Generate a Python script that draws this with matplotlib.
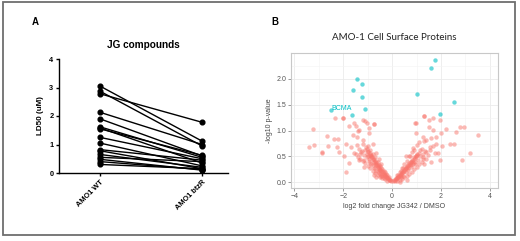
import numpy as np
import matplotlib.pyplot as plt
from matplotlib.patches import Rectangle

plt.rcParams['font.family'] = ['Liberation Sans', 'DejaVu Sans']

# -------------------------------
# data: panel A (paired LD50 values)
# -------------------------------
groups = ['AMO1 WT', 'AMO1 btzR']
ld50_wt = [3.05, 2.87, 2.78, 2.13, 1.90, 1.62, 1.58, 1.55, 1.25, 1.05,
           0.82, 0.78, 0.65, 0.55, 0.48, 0.40, 0.30]
ld50_btzr = [1.12, 0.95, 1.78, 1.00, 0.60, 0.55, 0.35, 0.62, 0.50, 0.25,
             0.45, 0.15, 0.20, 0.40, 0.10, 0.12, 0.15]

# -------------------------------
# data: panel B (volcano plot)
# -------------------------------
sig_fc = [-1.45, -1.22, -1.60, -1.22, -1.10, -1.63, -2.52,
          1.77, 1.59, 1.01, 2.53, 1.97]
sig_p = [2.00, 1.90, 1.78, 1.64, 1.42, 1.31, 1.40,
         2.37, 2.21, 1.70, 1.56, 1.33]
label_name = 'BCMA'
label_fc = -2.52
label_p = 1.40

ns_fc = [
    # left outliers
    -3.22, -3.42, -3.19, -2.88, -2.66, -2.62, -2.33, -2.00, -2.20, -2.27,
    -2.38, -1.89, -0.73, -1.78, -1.50, -1.34, -1.10, -1.62, -2.16, -1.96,
    -1.68, -1.45, -1.20, -0.93, -1.89, -1.55, -1.27, -1.07, -0.79, -0.66,
    -1.34, -1.00, -1.75, -1.14, -2.03, -2.87, -1.20, -1.05, -0.95, -1.55,
    -1.40, -0.75,
    # left core
    -0.05, -0.10, -0.15, -0.20, -0.25, -0.30, -0.35, -0.40, -0.45, -0.50,
    -0.55, -0.60, -0.65, -0.70, -0.75, -0.80, -0.85, -0.90, -1.00, -1.10,
    -0.20, -0.30, -0.40, -0.50, -0.60, -0.70, -0.80, -0.90, -1.00, -1.10,
    -1.20, -1.30,
    -0.20, -0.30, -0.40, -0.50, -0.60, -0.70, -0.80, -0.90, -1.00, -0.55,
    -0.45,
    -0.35, -0.45, -0.55, -0.65, -0.75, -0.85, -0.95, -1.05, -1.15, -1.25,
    -1.35, -1.20, -0.65, -0.75, -1.40, -1.50, -1.45,
    -0.08, -0.12, -0.18, -0.22, -0.28, -0.32, -0.38, -0.42, -0.48, -0.52,
    -0.58, -0.62, -0.68, -0.72, -0.78, -0.82, -0.88, -0.92, -0.98, -1.02,
    -0.15, -0.25, -0.35, -0.45, -0.55, -0.65, -0.75, -0.85, -0.95, -1.05,
    -0.60, -0.70, -0.80, -0.90, -1.15, -1.30, -0.50, -0.40,
    # right outliers
    2.77, 2.92, 2.60, 3.52, 3.20, 2.85, 2.36, 2.53, 2.05, 1.88,
    1.29, 0.99, 1.67, 1.95, 1.50, 1.67, 2.22, 0.99, 1.26, 1.40,
    1.81, 2.01, 1.53, 1.74, 1.40, 1.12, 0.85, 0.99, 1.26, 1.60,
    1.95, 0.71, 0.95, 1.30, 1.50,
    # right core
    0.05, 0.10, 0.15, 0.20, 0.25, 0.30, 0.35, 0.40, 0.45, 0.50,
    0.55, 0.60, 0.65, 0.70, 0.75, 0.80, 0.90, 1.00,
    0.20, 0.30, 0.40, 0.50, 0.60, 0.70, 0.80, 0.90, 1.00, 1.10,
    1.20, 1.30, 1.40,
    0.20, 0.30, 0.40, 0.50, 0.60, 0.70, 0.80, 0.90, 0.55, 1.00,
    1.10,
    0.35, 0.45, 0.55, 0.65, 0.75, 0.85, 0.95, 1.05, 1.15, 1.25,
    1.35, 1.45, 1.55, 1.65, 1.20, 1.30, 1.60, 1.80, 0.30, 0.60,
    0.08, 0.12, 0.18, 0.22, 0.28, 0.32, 0.38, 0.42, 0.48, 0.52,
    0.58, 0.62, 0.68, 0.72, 0.78, 0.82, 0.88, 0.92, 0.98, 1.02,
    0.15, 0.25, 0.35, 0.45, 0.65, 0.75, 0.85, 1.10, 1.25, 0.95,
]
ns_p = [
    # left outliers
    1.04, 0.69, 0.73, 0.57, 0.89, 0.71, 1.25, 1.25, 0.83, 0.69,
    0.83, 0.19, 1.13, 1.09, 1.09, 1.02, 1.19, 0.91, 0.59, 0.50,
    0.69, 0.88, 0.82, 0.95, 0.75, 0.56, 0.59, 0.69, 0.75, 0.56,
    0.43, 0.50, 0.37, 0.30, 1.24, 0.58, 1.20, 1.15, 1.05, 1.15,
    1.00, 1.12,
    # left core
    0.02, 0.04, 0.05, 0.08, 0.10, 0.12, 0.15, 0.17, 0.20, 0.23,
    0.26, 0.30, 0.33, 0.36, 0.40, 0.45, 0.48, 0.52, 0.58, 0.62,
    0.03, 0.06, 0.08, 0.10, 0.14, 0.18, 0.22, 0.27, 0.32, 0.38,
    0.42, 0.46,
    0.14, 0.20, 0.26, 0.32, 0.40, 0.48, 0.55, 0.63, 0.70, 0.45,
    0.35,
    0.09, 0.12, 0.18, 0.22, 0.28, 0.35, 0.42, 0.48, 0.52, 0.60,
    0.65, 0.75, 0.10, 0.14, 0.48, 0.55, 0.72,
    0.05, 0.06, 0.09, 0.11, 0.14, 0.16, 0.19, 0.22, 0.24, 0.28,
    0.31, 0.34, 0.38, 0.41, 0.44, 0.49, 0.51, 0.56, 0.60, 0.65,
    0.10, 0.16, 0.22, 0.27, 0.34, 0.40, 0.46, 0.52, 0.46, 0.55,
    0.22, 0.27, 0.34, 0.38, 0.44, 0.55, 0.16, 0.12,
    # right outliers
    1.07, 1.07, 0.97, 0.91, 0.57, 0.43, 0.75, 0.75, 0.70, 0.56,
    1.29, 1.15, 1.25, 1.20, 1.07, 1.01, 1.04, 0.95, 0.88, 0.82,
    0.88, 0.95, 0.69, 0.56, 0.59, 0.62, 0.66, 0.50, 0.46, 0.40,
    0.43, 0.50, 1.14, 1.29, 1.20,
    # right core
    0.02, 0.03, 0.06, 0.08, 0.10, 0.13, 0.15, 0.18, 0.20, 0.24,
    0.27, 0.30, 0.33, 0.37, 0.40, 0.44, 0.48, 0.52,
    0.02, 0.05, 0.07, 0.10, 0.13, 0.16, 0.20, 0.25, 0.30, 0.35,
    0.40, 0.35, 0.45,
    0.14, 0.20, 0.28, 0.35, 0.42, 0.50, 0.58, 0.63, 0.50, 0.72,
    0.78,
    0.10, 0.13, 0.19, 0.24, 0.30, 0.36, 0.40, 0.44, 0.50, 0.55,
    0.60, 0.52, 0.62, 0.70, 0.65, 0.80, 0.85, 0.75, 0.00, 0.05,
    0.04, 0.05, 0.08, 0.10, 0.12, 0.15, 0.17, 0.19, 0.22, 0.25,
    0.28, 0.31, 0.34, 0.36, 0.39, 0.42, 0.45, 0.47, 0.50, 0.55,
    0.09, 0.15, 0.22, 0.27, 0.28, 0.34, 0.40, 0.56, 0.48, 0.36,
]

fig = plt.figure(figsize=(5.2, 2.41), dpi=100)

# outer frame around both panels
fig.patches.append(Rectangle((3 / 520, 6 / 241), 512 / 520, 233 / 241,
                             transform=fig.transFigure, fill=False,
                             edgecolor='#6e6e6e', linewidth=1.3))

# -------------------------------
# Panel A
# -------------------------------
ax1 = fig.add_axes([59 / 520, 68 / 241, 169 / 520, 114 / 241])
xpos = np.arange(len(groups))
for a, b in zip(ld50_wt, ld50_btzr):
    ax1.plot(xpos, [a, b], color='black', linewidth=1.0,
             marker='o', markersize=3.4, clip_on=False)
ax1.set_xlim(-0.402, 1.255)
ax1.set_ylim(0, 4)
ax1.set_yticks([0, 1, 2, 3, 4])
ax1.set_xticks(xpos)
ax1.set_xticklabels(groups, rotation=45, ha='right', rotation_mode='anchor',
                    fontsize=5.3, fontweight='bold')
for lab in ax1.get_yticklabels():
    lab.set_fontsize(5.3)
    lab.set_fontweight('bold')
ax1.tick_params(axis='both', length=2.5, width=1.0, pad=1.5)
ax1.spines['top'].set_visible(False)
ax1.spines['right'].set_visible(False)
ax1.spines['left'].set_linewidth(1.0)
ax1.spines['bottom'].set_linewidth(1.0)
ax1.set_ylabel('LD50 (uM)', fontsize=5.8, fontweight='bold', labelpad=4)
ax1.set_title('JG compounds', fontsize=7.2, fontweight='bold', pad=8)
fig.text(35 / 520, 1 - 22 / 241, 'A', fontsize=7, fontweight='bold',
         ha='center', va='center')

# -------------------------------
# Panel B
# -------------------------------
ax2 = fig.add_axes([291 / 520, 53 / 241, 207 / 520, 135 / 241])
ax2.grid(True, which='major', color='#ebebeb', linewidth=0.6)
ax2.grid(True, which='minor', color='#f4f4f4', linewidth=0.4)
ax2.set_axisbelow(True)
ax2.scatter(ns_fc, ns_p, s=10, color='#F8766D', alpha=0.5, linewidths=0)
ax2.scatter(sig_fc, sig_p, s=10, color='#00BFC4', alpha=0.6, linewidths=0)
ax2.text(label_fc + 0.05, label_p + 0.02, label_name, color='#00BFC4',
         fontsize=5, ha='left', va='center')
ax2.set_xlim(-4.14, 4.33)
ax2.set_ylim(-0.11, 2.5)
ax2.set_xticks([-4, -2, 0, 2, 4])
ax2.set_xticks([-3, -1, 1, 3], minor=True)
ax2.set_yticks([0, 0.5, 1.0, 1.5, 2.0])
ax2.set_yticks([0.25, 0.75, 1.25, 1.75, 2.25], minor=True)
ax2.set_yticklabels(['0.0', '0.5', '1.0', '1.5', '2.0'])
ax2.tick_params(axis='both', which='major', labelsize=5, colors='#8a8a8a',
                labelcolor='#555555', length=2, width=0.6, pad=1.5)
ax2.tick_params(axis='both', which='minor', length=0)
for sp in ax2.spines.values():
    sp.set_color('#c8c8c8')
    sp.set_linewidth(0.8)
ax2.set_xlabel('log2 fold change JG342 / DMSO', fontsize=5, color='#444444',
               labelpad=2)
ax2.set_ylabel('-log10 p-value', fontsize=5, color='#444444', labelpad=2)
ax2.set_title('AMO-1 Cell Surface Proteins', fontsize=7, family='Lato',
              color='#222222', pad=9)
fig.text(275 / 520, 1 - 22 / 241, 'B', fontsize=7, fontweight='bold',
         ha='center', va='center')

fig.savefig('out.png', dpi=100)
